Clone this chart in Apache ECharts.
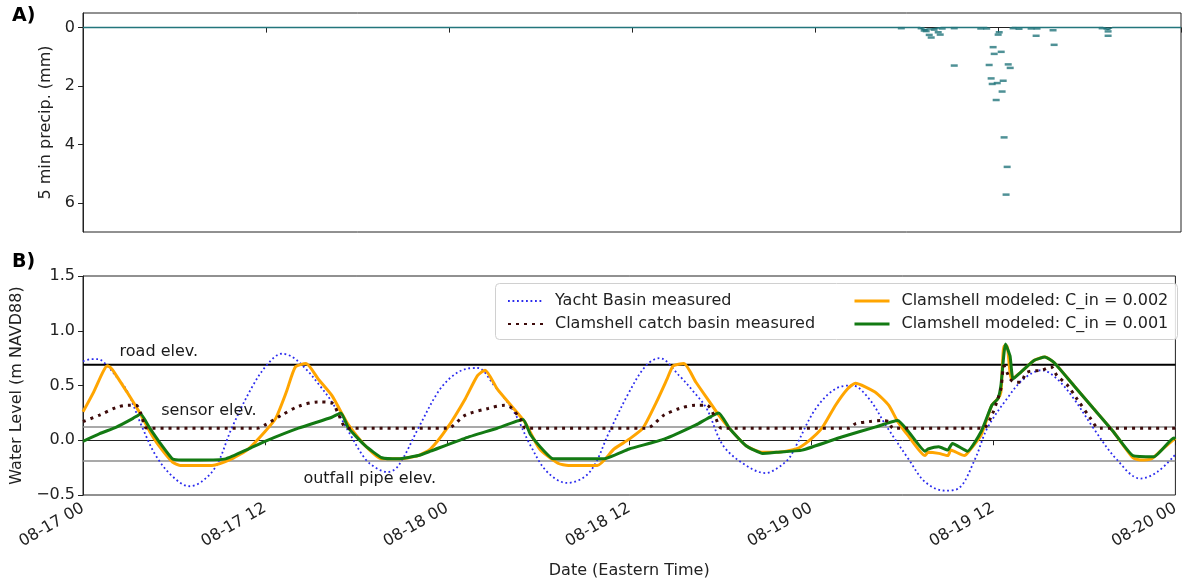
<!DOCTYPE html>
<html>
<head>
<meta charset="utf-8">
<script src="https://cdn.jsdelivr.net/npm/echarts@6/dist/echarts.min.js"></script>
<style>
html,body{margin:0;padding:0;background:#fff;}
#chart{width:1182px;height:584px;}
</style>
</head>
<body>
<div id="chart"></div>
<script>
// ---------- DATA ----------
const tickLabels = ['08-17 00','08-17 12','08-18 00','08-18 12','08-19 00','08-19 12','08-20 00'];
const precipTickValues = [0, 2, 4, 6];

// hours since 08-17 00:00
const precipLineHours  = [0, 54.9, 55.1, 55.4, 55.7, 56.3, 59.3, null, 60.9, 61.4, 66.9, 67.2, 67.5, 72];
const precipLineValues = [0, 0,    0.08, 0.05, 0.04, 0,    0,    null, 0,    0,    0,    0.07, 0,    0];

const precipHours  = [53.66, 54.96, 55.16, 55.29, 55.49, 55.62, 55.81, 56.08, 56.21, 56.34, 57.13, 57.13, 58.87, 59.26, 59.42, 59.55, 59.62, 59.68, 59.75, 59.88, 59.95, 60.01, 60.08, 60.21, 60.27, 60.34, 60.40, 60.53, 60.60, 60.67, 60.80, 60.99, 61.38, 62.17, 62.50, 62.56, 63.61, 63.68, 66.83, 67.15, 67.22, 67.22];
const precipValues = [0.02,  0.02,  0.10,  0.12,  0.25,  0.34,  0.07,  0.16,  0.24,  0.03,  1.30,  0.02,  0.03,  0.03,  1.28,  1.74,  1.93,  0.67,  0.90,  2.48,  1.90,  0.24,  0.16,  0.83,  2.19,  1.82,  3.76,  5.72,  4.77,  1.26,  1.38,  0.02,  0.04,  0.03,  0.28,  0.03,  0.09,  0.59,  0.02,  0.03,  0.13,  0.28];

const yachtHours  = [0, 0.5, 1.0, 1.6, 2.2, 2.9, 3.9, 4.8, 5.9, 7.0, 7.8, 8.8, 9.8, 11.2, 12.2, 13.1, 13.8, 14.7, 15.6, 16.4, 17.5, 18.6, 19.4, 20.1, 20.8, 22.1, 23.4, 24.3, 25.2, 26.0, 27.1, 28.4, 29.5, 30.6, 31.9, 33.4, 34.7, 36.0, 37.1, 38.0, 39.3, 40.2, 41.1, 42.2, 43.7, 45.0, 45.7, 46.5, 47.0, 48.3, 49.6, 50.7, 51.8, 52.9, 54.4, 55.5, 56.8, 57.7, 58.8, 59.6, 60.9, 62.0, 63.2, 64.2, 65.3, 66.6, 68.1, 69.7, 70.8, 72.0];
const yachtValues = [0.72, 0.74, 0.74, 0.68, 0.58, 0.45, 0.12, -0.14, -0.33, -0.42, -0.38, -0.23, 0.11, 0.50, 0.70, 0.79, 0.76, 0.65, 0.50, 0.35, 0.08, -0.17, -0.26, -0.29, -0.23, 0.11, 0.44, 0.58, 0.65, 0.66, 0.50, 0.26, -0.05, -0.29, -0.39, -0.29, 0.08, 0.44, 0.68, 0.75, 0.59, 0.45, 0.29, -0.05, -0.23, -0.30, -0.26, -0.17, -0.05, 0.29, 0.47, 0.50, 0.38, 0.14, -0.17, -0.38, -0.46, -0.44, -0.17, 0.11, 0.38, 0.56, 0.64, 0.56, 0.38, 0.11, -0.17, -0.35, -0.29, -0.13];

const catchHours  = [0, 1.1, 2.2, 3.0, 3.5, 3.8, 4.1, 4.4, 11.5, 12.0, 13.1, 14.2, 15.5, 16.4, 16.8, 17.2, 17.5, 24.0, 25.2, 26.7, 27.8, 28.2, 28.8, 29.2, 37.1, 38.3, 39.3, 40.4, 41.1, 41.7, 42.1, 50.5, 50.9, 51.8, 52.7, 53.1, 53.4, 59.3, 59.9, 60.3, 60.5, 60.7, 60.9, 61.1, 61.4, 61.8, 62.2, 63.2, 63.8, 64.2, 64.9, 65.5, 66.4, 66.8, 67.0, 72];
const catchValues = [0.17, 0.23, 0.30, 0.32, 0.32, 0.25, 0.12, 0.11, 0.11, 0.14, 0.23, 0.31, 0.35, 0.34, 0.25, 0.13, 0.11, 0.11, 0.23, 0.29, 0.32, 0.30, 0.20, 0.11, 0.11, 0.23, 0.29, 0.32, 0.32, 0.20, 0.11, 0.11, 0.15, 0.17, 0.18, 0.17, 0.11, 0.11, 0.23, 0.38, 0.47, 0.68, 0.62, 0.56, 0.53, 0.53, 0.62, 0.64, 0.67, 0.59, 0.50, 0.38, 0.20, 0.12, 0.11, 0.11];

const model002Hours  = [0, 0.7, 1.3, 1.6, 1.9, 2.2, 2.9, 3.7, 4.4, 5.0, 5.9, 6.4, 8.5, 9.8, 10.9, 12.0, 12.7, 13.4, 14.0, 14.7, 15.5, 16.4, 17.0, 17.5, 18.6, 19.7, 20.8, 22.1, 22.9, 24.0, 25.2, 26.0, 26.5, 27.3, 28.2, 29.1, 30.1, 31.3, 32.0, 33.9, 35.0, 36.0, 36.9, 37.8, 38.5, 38.9, 39.6, 40.4, 41.3, 41.9, 42.6, 43.7, 44.8, 45.7, 47.0, 47.8, 48.7, 49.6, 50.4, 50.9, 52.2, 53.1, 53.7, 54.4, 55.5, 55.7, 56.4, 57.0, 57.2, 57.4, 58.1, 58.4, 59.2, 59.9, 60.3, 60.5, 60.7, 60.9, 61.2, 61.8, 62.7, 63.4, 64.0, 65.3, 66.6, 67.9, 69.2, 69.7, 70.4, 71.0, 72.0];
const model002Values = [0.26, 0.44, 0.62, 0.68, 0.65, 0.59, 0.44, 0.26, 0.08, -0.05, -0.20, -0.23, -0.23, -0.17, -0.08, 0.08, 0.20, 0.44, 0.67, 0.70, 0.56, 0.41, 0.26, 0.14, -0.05, -0.17, -0.17, -0.14, -0.08, 0.11, 0.38, 0.59, 0.64, 0.47, 0.32, 0.17, -0.08, -0.21, -0.23, -0.23, -0.08, 0.01, 0.11, 0.35, 0.56, 0.68, 0.70, 0.53, 0.35, 0.23, 0.11, -0.05, -0.11, -0.11, -0.08, -0.01, 0.11, 0.32, 0.47, 0.52, 0.44, 0.32, 0.17, 0.04, -0.14, -0.11, -0.12, -0.14, -0.09, -0.10, -0.14, -0.10, 0.05, 0.32, 0.38, 0.44, 0.86, 0.86, 0.56, 0.62, 0.73, 0.76, 0.71, 0.50, 0.29, 0.08, -0.16, -0.18, -0.17, -0.10, 0.02];

const model001Hours  = [0, 1.1, 2.2, 3.3, 3.8, 4.4, 5.0, 5.9, 6.5, 7.7, 9.4, 10.9, 12.0, 14.2, 16.4, 17.0, 17.5, 18.6, 19.7, 20.8, 22.1, 22.9, 25.2, 27.3, 29.0, 29.5, 30.4, 31.0, 34.3, 36.0, 38.3, 40.4, 41.9, 42.6, 43.7, 44.8, 45.7, 47.4, 50.0, 52.2, 53.7, 54.4, 55.5, 55.7, 56.4, 57.0, 57.3, 58.3, 59.2, 59.9, 60.3, 60.5, 60.8, 61.1, 61.3, 61.8, 62.7, 63.4, 64.0, 65.3, 66.6, 67.9, 69.2, 70.6, 71.9, 72.0];
const model001Values = [-0.01, 0.06, 0.12, 0.20, 0.24, 0.11, -0.01, -0.17, -0.18, -0.18, -0.17, -0.08, -0.01, 0.11, 0.21, 0.25, 0.11, -0.05, -0.16, -0.17, -0.14, -0.10, 0.02, 0.11, 0.19, 0.05, -0.10, -0.17, -0.17, -0.08, 0.01, 0.14, 0.25, 0.11, -0.05, -0.12, -0.11, -0.09, 0.03, 0.12, 0.18, 0.08, -0.10, -0.08, -0.06, -0.09, -0.03, -0.10, 0.08, 0.32, 0.38, 0.50, 0.88, 0.77, 0.56, 0.62, 0.73, 0.76, 0.71, 0.50, 0.29, 0.08, -0.14, -0.15, 0.02, 0.01];

const refNames  = ['road elev.', 'sensor elev.', 'outfall pipe elev.'];
const refLevels = [0.69, 0.12, -0.19];
const refLabelHours  = [5.0, 8.3, 18.9];
const refLabelValues = [0.81, 0.27, -0.35];

const seriesNames = ['Yacht Basin measured', 'Clamshell catch basin measured', 'Clamshell modeled: C_in = 0.002', 'Clamshell modeled: C_in = 0.001'];

// ---------- BUILD ----------
const zip = (a, b) => a.map((x, i) => (x === null ? [null, null] : [x, b[i]]));
const FONT = 'DejaVu Sans';
const FS = 16;
const AX = '#222';

const chart = echarts.init(document.getElementById('chart'), null, {renderer: 'canvas'});

const xCommon = {
  type: 'value', min: 0, max: 72, interval: 12,
  axisLine: {show: true, lineStyle: {color: AX, width: 1}},
  axisTick: {show: true, length: 5, lineStyle: {color: AX}},
  splitLine: {show: false}
};

const legendCommon = {
  orient: 'vertical', top: 288, z: 10,
  itemWidth: 35, itemHeight: 12, itemGap: 7,
  itemStyle: {opacity: 0, borderWidth: 0},
  textStyle: {fontSize: FS, color: '#222', fontFamily: FONT, padding: [0, 0, 0, 7]},
  selectedMode: false
};

const staticGraphics = [
  {type: 'rect', left: 495, top: 283, z: 1, shape: {width: 682, height: 56, r: 4},
   style: {fill: 'rgba(255,255,255,0.85)', stroke: '#d0d0d0', lineWidth: 1}},
  {type: 'text', left: 12, top: 7, style: {text: 'A)', font: 'bold 19px "DejaVu Sans"', fill: '#000'}},
  {type: 'text', left: 12, top: 253, style: {text: 'B)', font: 'bold 19px "DejaVu Sans"', fill: '#000'}}
];

const option = {
  backgroundColor: '#fff',
  animation: false,
  textStyle: {fontFamily: FONT},
  grid: [
    {left: 83, right: 1, top: 13, height: 219, show: true, borderColor: AX, borderWidth: 1, backgroundColor: 'transparent'},
    {left: 83, right: 1, top: 276, height: 219, show: true, borderColor: AX, borderWidth: 1, backgroundColor: 'transparent'}
  ],
  xAxis: [
    Object.assign({}, xCommon, {gridIndex: 0, axisLabel: {show: false}}),
    Object.assign({}, xCommon, {
      gridIndex: 1,
      axisLabel: {
        show: true, rotate: 30, fontSize: FS, color: '#222', fontFamily: FONT, margin: 12,
        formatter: v => tickLabels[Math.round(v / 12)] || ''
      },
      name: 'Date (Eastern Time)', nameLocation: 'middle', nameGap: 68,
      nameTextStyle: {fontSize: FS, color: '#222', fontFamily: FONT}
    })
  ],
  yAxis: [
    {
      gridIndex: 0, type: 'value', inverse: true, min: -0.5, max: 7,
      axisLine: {show: true, lineStyle: {color: AX}},
      axisTick: {show: true, length: 5, lineStyle: {color: AX}, customValues: precipTickValues},
      axisLabel: {show: true, fontSize: FS, color: '#222', fontFamily: FONT, margin: 8, customValues: precipTickValues},
      splitLine: {show: false},
      name: '5 min precip. (mm)', nameLocation: 'middle', nameGap: 29, nameRotate: 90,
      nameTextStyle: {fontSize: FS, color: '#222', fontFamily: FONT}
    },
    {
      gridIndex: 1, type: 'value', min: -0.5, max: 1.5, interval: 0.5,
      axisLine: {show: true, lineStyle: {color: AX}},
      axisTick: {show: true, length: 5, lineStyle: {color: AX}},
      axisLabel: {
        show: true, fontSize: FS, color: '#222', fontFamily: FONT, margin: 8,
        formatter: v => (v < 0 ? '\u2212' : '') + Math.abs(v).toFixed(1)
      },
      splitLine: {show: false},
      name: 'Water Level (m NAVD88)', nameLocation: 'middle', nameGap: 58, nameRotate: 90,
      nameTextStyle: {fontSize: FS, color: '#222', fontFamily: FONT}
    }
  ],
  legend: [
    Object.assign({}, legendCommon, {left: 502, data: [
      {name: seriesNames[0]},
      {name: seriesNames[1]}
    ]}),
    Object.assign({}, legendCommon, {left: 848, data: [
      {name: seriesNames[2], lineStyle: {width: 3}},
      {name: seriesNames[3], lineStyle: {width: 3}}
    ]})
  ],
  graphic: staticGraphics,
  series: [
    {
      name: 'precip line', type: 'line', xAxisIndex: 0, yAxisIndex: 0,
      data: zip(precipLineHours, precipLineValues), symbol: 'none', connectNulls: false,
      lineStyle: {color: '#23767c', width: 1.5}, silent: true, z: 2
    },
    {
      name: 'precip', type: 'scatter', xAxisIndex: 0, yAxisIndex: 0,
      data: zip(precipHours, precipValues), symbol: 'rect', symbolSize: [7, 2.5],
      itemStyle: {color: '#23767c'}, silent: true, z: 3
    },
    // reference elevations
    ...refLevels.map((lv, i) => ({
      name: refNames[i], type: 'line', xAxisIndex: 1, yAxisIndex: 1,
      data: [[0, lv], [72, lv]], symbol: 'none', silent: true,
      lineStyle: i === 0 ? {color: '#000', width: 2} : {color: '#8c8c8c', width: 1.5}, z: 1
    })),
    {
      name: seriesNames[0], type: 'line', xAxisIndex: 1, yAxisIndex: 1,
      data: zip(yachtHours, yachtValues), symbol: 'none', smooth: 0.35,
      lineStyle: {color: '#2a2aee', width: 1.8, type: [1.8, 2.7]}, itemStyle: {color: '#2a2aee'}, z: 3
    },
    {
      name: seriesNames[2], type: 'line', xAxisIndex: 1, yAxisIndex: 1,
      data: zip(model002Hours, model002Values), symbol: 'none', smooth: 0.2,
      lineStyle: {color: '#ffa500', width: 3}, itemStyle: {color: '#ffa500'}, z: 4
    },
    {
      name: seriesNames[3], type: 'line', xAxisIndex: 1, yAxisIndex: 1,
      data: zip(model001Hours, model001Values), symbol: 'none', smooth: 0.15,
      lineStyle: {color: '#137a13', width: 3}, itemStyle: {color: '#137a13'}, z: 5
    },
    {
      name: seriesNames[1], type: 'line', xAxisIndex: 1, yAxisIndex: 1,
      data: zip(catchHours, catchValues), symbol: 'none', smooth: 0.3,
      lineStyle: {color: '#3d0a0a', width: 3, type: [3, 5]}, itemStyle: {color: '#3d0a0a'}, z: 6
    }
  ]
};
chart.setOption(option);

// elevation annotations, placed through the chart's own coordinate conversion
const annotationGraphics = refNames.map((txt, i) => {
  const p = chart.convertToPixel({gridIndex: 1}, [refLabelHours[i], refLabelValues[i]]);
  return {type: 'text', x: p[0], y: p[1], z: 20,
          style: {text: txt, font: FS + 'px "DejaVu Sans"', fill: '#1a1a1a', align: 'center', verticalAlign: 'middle'}};
});
chart.setOption({graphic: staticGraphics.concat(annotationGraphics)});
</script>
</body>
</html>
